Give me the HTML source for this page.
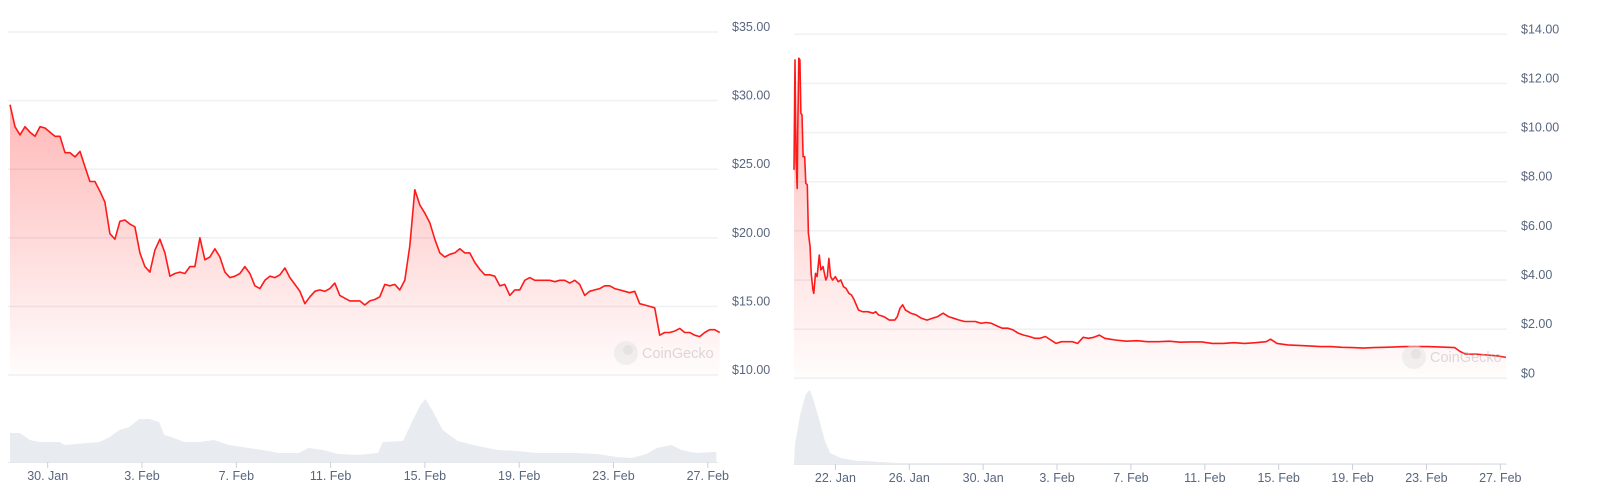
<!DOCTYPE html>
<html><head><meta charset="utf-8">
<style>
html,body{margin:0;padding:0;background:#fff;}
svg{display:block;font-family:"Liberation Sans",sans-serif;}
</style></head>
<body>
<svg id="chart" width="1600" height="500" viewBox="0 0 1600 500" xmlns="http://www.w3.org/2000/svg">
<defs>
<linearGradient id="gL" x1="0" y1="0" x2="0" y2="1"><stop offset="0" stop-color="#ff0000" stop-opacity="0.28"/><stop offset="1" stop-color="#ff0000" stop-opacity="0.01"/></linearGradient>
<linearGradient id="gR" x1="0" y1="0" x2="0" y2="1"><stop offset="0" stop-color="#ff0000" stop-opacity="0.28"/><stop offset="1" stop-color="#ff0000" stop-opacity="0.01"/></linearGradient>
</defs>
</svg>
<script>
// ---- Left chart data ----
const leftPriceTicks = [10, 15, 20, 25, 30, 35];
const leftPriceTickLabels = ["$10.00","$15.00","$20.00","$25.00","$30.00","$35.00"];
const leftDateTickLabels = ["30. Jan","3. Feb","7. Feb","11. Feb","15. Feb","19. Feb","23. Feb","27. Feb"];
const leftDateTickDays = [1.6, 5.6, 9.6, 13.6, 17.6, 21.6, 25.6, 29.6];
const leftStepDays = 0.212;
const leftPrices = [29.7,28.1,27.5,28.1,27.7,27.4,28.1,28.0,27.7,27.4,27.4,26.2,26.2,25.9,26.3,25.2,24.1,24.1,23.4,22.6,20.3,19.9,21.2,21.3,21.0,20.8,18.9,17.9,17.5,19.1,19.9,18.9,17.2,17.4,17.5,17.4,17.9,17.9,20.0,18.4,18.6,19.2,18.6,17.5,17.1,17.2,17.4,17.9,17.4,16.5,16.3,16.9,17.2,17.1,17.3,17.8,17.1,16.6,16.1,15.2,15.7,16.1,16.2,16.1,16.3,16.7,15.8,15.6,15.4,15.4,15.4,15.1,15.4,15.5,15.7,16.6,16.5,16.6,16.2,16.9,19.4,23.5,22.4,21.8,21.1,19.9,18.9,18.6,18.8,18.9,19.2,18.9,18.9,18.2,17.7,17.3,17.3,17.2,16.5,16.6,15.8,16.2,16.2,16.9,17.1,16.9,16.9,16.9,16.9,16.8,16.9,16.9,16.7,16.9,16.6,15.8,16.1,16.2,16.3,16.5,16.5,16.3,16.2,16.1,16.0,16.1,15.2,15.1,15.0,14.9,12.9,13.1,13.1,13.2,13.4,13.1,13.1,12.9,12.8,13.1,13.3,13.3,13.1];
const leftVolDays = [0,0.42,0.84,1.27,2.11,2.32,3.80,4.22,4.64,5.06,5.49,5.91,6.33,6.54,6.96,7.38,8.02,8.65,9.28,10.13,10.97,11.39,12.24,12.66,13.29,13.92,14.77,15.61,15.82,16.67,17.09,17.41,17.62,17.93,18.35,18.99,19.83,20.68,21.52,22.36,24.05,24.89,25.74,26.37,27.00,27.43,28.06,28.48,29.11,29.96];
const leftVolumes = [29,29,22,20,20,17,20,25,32,35,43,43,40,27,24,20,20,22,17,14,11,9,9,14,12,8,7,9,20,21,42,57,63,51,32,21,16,12,11,9,9,8,5,4,8,14,17,12,9,10];

// ---- Right chart data ----
const rightPriceTicks = [0, 2, 4, 6, 8, 10, 12, 14];
const rightPriceTickLabels = ["$0","$2.00","$4.00","$6.00","$8.00","$10.00","$12.00","$14.00"];
const rightDateTickLabels = ["22. Jan","26. Jan","30. Jan","3. Feb","7. Feb","11. Feb","15. Feb","19. Feb","23. Feb","27. Feb"];
const rightDateTickDays = [0,4,8,12,16,20,24,28,32,36];
const rightDays = [-2.24,-2.19,-2.13,-2.07,-2.04,-1.98,-1.92,-1.87,-1.81,-1.75,-1.66,-1.60,-1.52,-1.46,-1.37,-1.31,-1.22,-1.17,-1.08,-0.99,-0.87,-0.79,-0.67,-0.52,-0.44,-0.35,-0.26,-0.15,0,0.15,0.29,0.44,0.58,0.73,0.87,1.02,1.17,1.25,1.46,1.75,2.04,2.19,2.33,2.62,2.92,3.21,3.35,3.50,3.64,3.79,4.08,4.37,4.66,4.96,5.25,5.54,5.83,6.12,6.41,6.71,7.00,7.29,7.58,7.87,8.16,8.45,8.75,9.04,9.33,9.62,9.91,10.20,10.50,10.79,11.08,11.37,11.66,11.95,12.24,12.54,12.83,13.12,13.41,13.70,13.99,14.29,14.58,14.87,15.16,15.74,16.33,16.91,17.49,18.08,18.66,19.24,19.83,20.41,20.99,21.57,22.16,22.74,23.32,23.56,23.91,24.49,25.07,25.66,26.24,26.82,27.41,27.99,28.57,29.15,29.74,30.32,30.90,31.49,32.07,32.65,33.53,33.82,34.11,34.69,35.28,35.86,36.30];
const rightPrices = [8.48,12.96,8.89,7.73,9.97,13.03,12.96,10.79,10.72,9.02,9.02,7.94,7.87,5.90,5.36,4.27,3.60,3.46,4.27,4.14,5.02,4.41,4.55,4.00,4.14,4.88,4.14,4.00,4.14,3.93,4.00,3.73,3.66,3.46,3.39,3.19,2.92,2.78,2.71,2.71,2.65,2.71,2.58,2.51,2.37,2.37,2.51,2.85,2.99,2.78,2.65,2.58,2.44,2.37,2.44,2.51,2.65,2.51,2.44,2.37,2.31,2.31,2.31,2.24,2.27,2.24,2.13,2.04,2.04,1.97,1.83,1.76,1.70,1.63,1.63,1.70,1.56,1.42,1.49,1.49,1.49,1.42,1.67,1.63,1.67,1.76,1.63,1.59,1.56,1.51,1.53,1.49,1.49,1.51,1.47,1.48,1.48,1.42,1.42,1.45,1.42,1.45,1.49,1.59,1.42,1.36,1.34,1.32,1.29,1.29,1.26,1.25,1.23,1.25,1.26,1.28,1.29,1.29,1.29,1.28,1.25,1.09,0.99,0.98,0.95,0.91,0.85];
const rightVolDays = [-2.24,-2.19,-1.90,-1.60,-1.37,-1.17,-0.87,-0.58,-0.29,0.29,1.17,1.75,2.33,3.50,36.30];
const rightVolumes = [0,20,50,70,74,63,44,24,11,6,3,3,2,1,1];

const NS = "http://www.w3.org/2000/svg";
const svg = document.getElementById('chart');
function mk(tag, attrs, parent){const e=document.createElementNS(NS,tag);for(const k in attrs)e.setAttribute(k,attrs[k]);(parent||svg).appendChild(e);return e;}

// axis functions
const lx = d => 47.7 + (d - 1.6) * 23.575;
const ly = p => 375 - (p - 10) * 13.72;
const lv = v => 462 - v;
const rx = d => 835.4 + d * 18.47;
const ry = p => 378.3 - p * 24.57;
const rv = v => 464 - v;

function drawChart(o){
  const g = mk('g',{});
  
  
  // gridlines + labels
  o.pTicks.forEach((p,i)=>{
    const y=o.y(p);
    const l=mk('line',{x1:o.x0,x2:o.x1,y1:y,y2:y,stroke:'#eff1f4','stroke-width':1.6},g);
    
    
    const t=mk('text',{x:o.labelX,y:y-1,'font-size':12.5,fill:'#58667e'},g);
    t.textContent=o.pLabels[i];
    
    
  });
  // volume
  let vd='M'+o.x(o.vDays[0])+','+o.v(0);
  o.vDays.forEach((d,i)=>{vd+=' L'+o.x(d).toFixed(1)+','+o.v(o.vols[i]).toFixed(1);});
  vd+=' L'+o.x(o.vDays[o.vDays.length-1])+','+o.v(0)+' Z';
  const va=mk('path',{d:vd,fill:'#e8ebef'},g);
  
  
  const bl=mk('line',{x1:o.x0,x2:o.x1,y1:o.v(0)+0.5,y2:o.v(0)+0.5,stroke:'#e6e8eb','stroke-width':1},g);
  
  
  // x ticks
  o.xTickDays.forEach((d,i)=>{
    const x=o.x(d);
    const tk=mk('line',{x1:x,x2:x,y1:o.v(0),y2:o.v(0)+6,stroke:'#ccd0d6','stroke-width':1},g);
    
    
    const t=mk('text',{x:x,y:o.v(0)+18,'font-size':12.5,fill:'#58667e','text-anchor':'middle'},g);
    t.textContent=o.xLabels[i];
    
    
  });
  // price line
  let ld='';
  o.days.forEach((d,i)=>{ld+=(i?' L':'M')+o.x(d).toFixed(1)+','+o.y(o.prices[i]).toFixed(1);});
  const base=o.y(o.pTicks[0]);
  const ad=ld+' L'+o.x(o.days[o.days.length-1]).toFixed(1)+','+base+' L'+o.x(o.days[0]).toFixed(1)+','+base+' Z';
  const area=mk('path',{d:ad,fill:o.grad},g);
  
  
  const line=mk('path',{d:ld,fill:'none',stroke:'#ff1a1a','stroke-width':1.6,'stroke-linejoin':'round'},g);
  
  
  // watermark
  const wm=mk('g',{opacity:0.5},g);
  
  
  mk('circle',{cx:o.wmX,cy:o.wmY,r:12,fill:'#e4e4e4'},wm);
  mk('circle',{cx:o.wmX+2,cy:o.wmY-3,r:5,fill:'#cfcfcf'},wm);
  const wt=mk('text',{x:o.wmX+16,y:o.wmY+5,'font-size':14.5,fill:'#b8b8b8'},wm);
  wt.textContent='CoinGecko';
}

const leftDays = leftPrices.map((_,i)=>i*leftStepDays);
drawChart({name:'left-chart',x:lx,y:ly,v:lv,x0:8,x1:718,labelX:732,pTicks:leftPriceTicks,pLabels:leftPriceTickLabels,
  xTickDays:leftDateTickDays,xLabels:leftDateTickLabels,days:leftDays,prices:leftPrices,vDays:leftVolDays,vols:leftVolumes,grad:'url(#gL)',wmX:626,wmY:353});
drawChart({name:'right-chart',x:rx,y:ry,v:rv,x0:794,x1:1507,labelX:1521,pTicks:rightPriceTicks,pLabels:rightPriceTickLabels,
  xTickDays:rightDateTickDays,xLabels:rightDateTickLabels,days:rightDays,prices:rightPrices,vDays:rightVolDays,vols:rightVolumes,grad:'url(#gR)',wmX:1414,wmY:357});
</script>
</body></html>
